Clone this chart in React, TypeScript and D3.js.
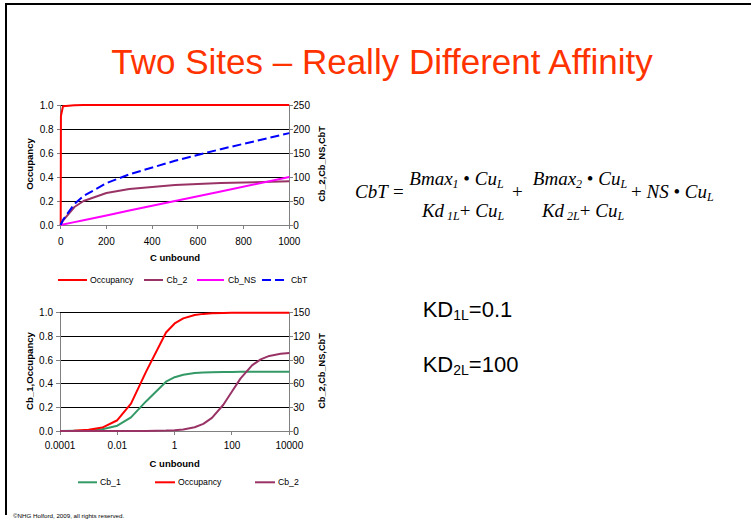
import React from "react";
import * as d3 from "d3";

// ---------- Data ----------
const topC = [0, 1, 10, 60, 100, 200, 300, 500, 700, 1000];
const topOccupancy = [0, 0.909, 0.99, 0.998, 0.999, 1, 1, 1, 1, 1];
const topCb2 = [0, 0.99, 9.09, 37.5, 50, 66.7, 75, 83.3, 87.5, 90.9];
const topCbNS = [0, 0.1, 1, 6, 10, 20, 30, 50, 70, 100];
const topCbT = [0, 1.5, 10.6, 44, 60.5, 87.2, 105.5, 133.8, 158, 191.4];

const botC = [0.0001, 0.0003, 0.001, 0.003, 0.01, 0.03, 0.1, 0.5, 1, 2, 5, 10, 20, 50, 100, 200, 500, 1000, 2000, 5000, 10000];
const botCb1 = [0.0005, 0.0015, 0.005, 0.0145, 0.045, 0.115, 0.25, 0.417, 0.455, 0.476, 0.49, 0.495, 0.4975, 0.499, 0.4995, 0.5, 0.5, 0.5, 0.5, 0.5, 0.5];
const botOccupancy = [0.001, 0.003, 0.0099, 0.029, 0.091, 0.231, 0.5, 0.833, 0.909, 0.952, 0.98, 0.99, 0.995, 0.998, 0.999, 1, 1, 1, 1, 1, 1];
const botCb2 = [0.0001, 0.0003, 0.001, 0.003, 0.01, 0.03, 0.1, 0.5, 0.99, 1.96, 4.76, 9.09, 16.7, 33.3, 50, 66.7, 83.3, 90.9, 95.2, 98.0, 99.0];

const leftTicks = [0, 0.2, 0.4, 0.6, 0.8, 1.0];
const topRightTicks = [0, 50, 100, 150, 200, 250];
const topXTicks = [0, 200, 400, 600, 800, 1000];
const botRightTicks = [0, 30, 60, 90, 120, 150];
const botXTicks = [0.0001, 0.01, 1, 100, 10000];
const botXLabels = ["0.0001", "0.01", "1", "100", "10000"];

const SANS = "'Liberation Sans', Arial, sans-serif";
const SERIF = "'Liberation Serif', 'Times New Roman', serif";
const GRAY = "#808080";

type Series = { name: string; values: number[]; color: string; axis: "left" | "right"; dash?: string };

function Chart(props: {
  left: number; right: number; top: number; bottom: number;
  xScale: any; xs: number[]; xTicks: number[]; xLabels: string[];
  rightMax: number; rightTicks: number[];
  series: Series[]; leftTitle: string; rightTitle: string;
  legend: { x1: number; x2: number; tx: number }[]; legendY: number;
  xLabelY: number; xTitleY: number; titleCY: number;
}) {
  const { left, right, top, bottom, xScale, xs, series } = props;
  const yL = d3.scaleLinear().domain([0, 1]).range([bottom, top]);
  const yR = d3.scaleLinear().domain([0, props.rightMax]).range([bottom, top]);
  return (
    <g>
      <g shapeRendering="crispEdges">
        {leftTicks.filter((t) => t > 0).map((t) => (
          <line key={"g" + t} x1={left} x2={right} y1={yL(t)} y2={yL(t)} stroke="#000" strokeWidth={1} />
        ))}
        <line x1={left} x2={left} y1={top} y2={bottom} stroke={GRAY} />
        <line x1={right} x2={right} y1={top} y2={bottom} stroke={GRAY} />
        <line x1={left} x2={right} y1={bottom} y2={bottom} stroke={GRAY} />
        {leftTicks.map((t) => (
          <line key={"lt" + t} x1={left - 4} x2={left} y1={yL(t)} y2={yL(t)} stroke={GRAY} />
        ))}
        {props.rightTicks.map((t) => (
          <line key={"rt" + t} x1={right} x2={right + 4} y1={yR(t)} y2={yR(t)} stroke={GRAY} />
        ))}
        {props.xTicks.map((t) => (
          <line key={"xt" + t} x1={xScale(t)} x2={xScale(t)} y1={bottom} y2={bottom + 4} stroke={GRAY} />
        ))}
      </g>
      {leftTicks.map((t) => (
        <text key={"l" + t} x={left - 7} y={yL(t)} dy="0.35em" textAnchor="end" fontSize={10} fontFamily={SANS}>{d3.format(".1f")(t)}</text>
      ))}
      {props.rightTicks.map((t) => (
        <text key={"r" + t} x={right + 4} y={yR(t)} dy="0.35em" textAnchor="start" fontSize={10} fontFamily={SANS}>{t}</text>
      ))}
      {props.xTicks.map((t, i) => (
        <text key={"x" + t} x={xScale(t)} y={props.xLabelY} dy="0.35em" textAnchor="middle" fontSize={10} fontFamily={SANS}>{props.xLabels[i]}</text>
      ))}
      <text x={(left + right) / 2} y={props.xTitleY} dy="0.35em" textAnchor="middle" fontSize={9.5} fontWeight="bold" fontFamily={SANS}>C unbound</text>
      <text transform={`translate(30,${props.titleCY}) rotate(-90)`} dy="0.35em" textAnchor="middle" fontSize={9.6} fontWeight="bold" fontFamily={SANS}>{props.leftTitle}</text>
      <text transform={`translate(322,${props.titleCY}) rotate(-90)`} dy="0.35em" textAnchor="middle" fontSize={9.2} fontWeight="bold" fontFamily={SANS}>{props.rightTitle}</text>
      {series.map((s) => {
        const y = s.axis === "left" ? yL : yR;
        const line = d3.line<number>().x((_, i) => xScale(xs[i])).y((v) => y(v));
        return <path key={s.name} d={line(s.values) || ""} fill="none" stroke={s.color} strokeWidth={2} strokeDasharray={s.dash} strokeLinejoin="round" />;
      })}
      {series.map((s, i) => (
        <g key={"lg" + s.name}>
          <line x1={props.legend[i].x1} x2={props.legend[i].x2} y1={props.legendY} y2={props.legendY} stroke={s.color} strokeWidth={2} strokeDasharray={s.dash} />
          <text x={props.legend[i].tx} y={props.legendY} dy="0.35em" fontSize={8.7} fontFamily={SANS}>{s.name}</text>
        </g>
      ))}
    </g>
  );
}

export default function App() {
  const topX = d3.scaleLinear().domain([0, 1000]).range([60.7, 289.3]);
  const botX = d3.scaleLog().domain([0.0001, 10000]).range([60, 289.3]);
  const sub = { fontSize: 12, fontStyle: "italic" } as const;
  const dot = { fontStyle: "normal", fontSize: 19 } as const;
  return (
    <svg width={751} height={523} style={{ position: "absolute", left: 0, top: 0, background: "#fff" }}>
      <rect width={751} height={523} fill="#fff" />
      <line x1={6} x2={751} y1={4} y2={4} stroke="#000" strokeWidth={2} />
      <line x1={6} x2={6} y1={3} y2={515} stroke="#000" strokeWidth={2} />
      <text x={382} y={74} textAnchor="middle" fontSize={35} fill="#FF3300" fontFamily={SANS}>Two Sites – Really Different Affinity</text>

      <Chart left={60.7} right={289.3} top={105} bottom={225} xScale={topX} xs={topC}
        xTicks={topXTicks} xLabels={topXTicks.map(String)} rightMax={250} rightTicks={topRightTicks}
        series={[
          { name: "Occupancy", values: topOccupancy, color: "#FF0000", axis: "left" },
          { name: "Cb_2", values: topCb2, color: "#993366", axis: "right" },
          { name: "Cb_NS", values: topCbNS, color: "#FF00FF", axis: "right" },
          { name: "CbT", values: topCbT, color: "#0000FF", axis: "right", dash: "9,4" },
        ]}
        leftTitle="Occupancy" rightTitle="Cb_2,Cb_NS,CbT"
        legend={[{ x1: 58, x2: 87, tx: 90 }, { x1: 144, x2: 163, tx: 166.5 }, { x1: 197, x2: 224, tx: 228 }, { x1: 262, x2: 287, tx: 291 }]}
        legendY={280} xLabelY={241.7} xTitleY={257.7} titleCY={164} />

      <Chart left={60} right={289.3} top={312.7} bottom={431} xScale={botX} xs={botC}
        xTicks={botXTicks} xLabels={botXLabels} rightMax={150} rightTicks={botRightTicks}
        series={[
          { name: "Cb_1", values: botCb1, color: "#339966", axis: "left" },
          { name: "Occupancy", values: botOccupancy, color: "#FF0000", axis: "left" },
          { name: "Cb_2", values: botCb2, color: "#993366", axis: "right" },
        ]}
        leftTitle="Cb_1,Occupancy" rightTitle="Cb_2,Cb_NS,CbT"
        legend={[{ x1: 78, x2: 97, tx: 100 }, { x1: 155, x2: 175, tx: 178 }, { x1: 255, x2: 275, tx: 278 }]}
        legendY={482.3} xLabelY={445.7} xTitleY={463.3} titleCY={371} />

      <g fontFamily={SERIF} fontSize={19} fontStyle="italic">
        <text x={355} y={198}>CbT</text>
        <text x={393} y={198} fontStyle="normal">=</text>
        <text x={456.5} y={185} textAnchor="middle">Bmax<tspan {...sub} dy={3}>1</tspan><tspan dy={-3} {...dot}> • </tspan>Cu<tspan {...sub} dy={3}>L</tspan></text>
        <text x={463} y={217} textAnchor="middle">Kd<tspan {...sub} dy={3}> 1L</tspan><tspan dy={-3} fontStyle="normal">+</tspan> Cu<tspan {...sub} dy={3}>L</tspan></text>
        <text x={512} y={198} fontStyle="normal">+</text>
        <text x={580} y={185} textAnchor="middle">Bmax<tspan {...sub} dy={3}>2</tspan><tspan dy={-3} {...dot}> • </tspan>Cu<tspan {...sub} dy={3}>L</tspan></text>
        <text x={583} y={217} textAnchor="middle">Kd<tspan {...sub} dy={3}> 2L</tspan><tspan dy={-3} fontStyle="normal">+</tspan> Cu<tspan {...sub} dy={3}>L</tspan></text>
        <text x={631} y={198}><tspan fontStyle="normal">+ </tspan>NS<tspan {...dot}> • </tspan>Cu<tspan {...sub} dy={3}>L</tspan></text>
      </g>

      <g fontFamily={SANS} fontSize={22}>
        <text x={422.7} y={317.3}>KD<tspan fontSize={14} dy={3}>1L</tspan><tspan dy={-3}>=0.1</tspan></text>
        <text x={422.7} y={371.7}>KD<tspan fontSize={14} dy={3}>2L</tspan><tspan dy={-3}>=100</tspan></text>
      </g>

      <text x={13} y={518} fontSize={6.2} fontFamily={SANS}>©NHG Holford, 2009, all rights reserved.</text>
    </svg>
  );
}
